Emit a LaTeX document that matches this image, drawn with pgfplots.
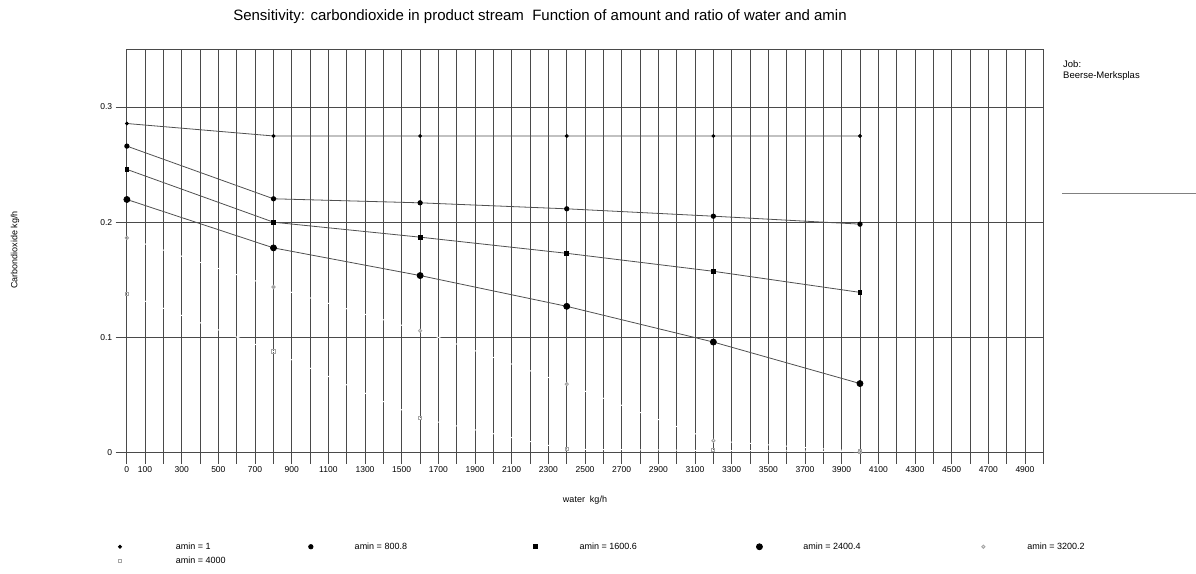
\documentclass[border=0pt]{standalone}
\usepackage{fontspec}
\setmainfont{Liberation Sans}
\usepackage{pgfplots}
\pgfplotsset{compat=1.18}
\definecolor{gridc}{HTML}{4A4A4A}
\definecolor{linec}{HTML}{505050}
\begin{document}
\begin{tikzpicture}[x=1pt,y=1pt]
\useasboundingbox (0,0) rectangle (1196,573);
\begin{axis}[
  at={(126.7pt,120.3pt)}, anchor=south west,
  scale only axis, width=916.6pt, height=403.4pt,
  xmin=0, xmax=5000, ymin=0, ymax=0.35,
  xtick={0,100,300,...,4900}, minor xtick={200,400,...,5000},
  ytick={0,0.1,0.2,0.3},
  scaled y ticks=false, scaled x ticks=false,
  /pgf/number format/1000 sep={},
  /pgf/number format/assume math mode=true,
  xticklabel style={font=\fontsize{8.5}{9}\selectfont, yshift=1pt},
  yticklabel style={font=\fontsize{8.5}{9}\selectfont},
  tick align=outside, xtick pos=left, ytick pos=left,
  major tick length=11pt, minor tick length=11pt,
  grid=both,
  major grid style={draw=gridc, line width=0.8pt},
  minor grid style={draw=gridc, line width=0.8pt},
  axis line style={draw=gridc, line width=0.8pt},
  tick style={draw=gridc, line width=0.8pt},
  clip=false,
  legend columns=5,
  legend cell align=left,
  legend image code/.code={%
    \path (-4pt,0pt) (42pt,0pt);
    \path[#1] plot coordinates {(0pt,0pt)};},
  legend style={draw=none, fill=none, inner sep=0pt,
    font=\fontsize{9}{10}\selectfont,
    at={(-0.0125,-0.219)}, anchor=north west,
    row sep=3pt,
    nodes={inner sep=1.5pt}},
]
\addplot[linec, line width=0.8pt, mark=*, mark size=1.5pt, mark options={fill=black, draw=black}]
  coordinates {(1,0.2856)(800.8,0.2748)(1600.6,0.2748)(2400.4,0.2748)(3200.2,0.2748)(4000,0.2748)};
\addlegendentry{\makebox[141pt][l]{\hspace{12pt}amin = 1}}
\addplot[linec, line width=0.8pt, mark=*, mark size=2.2pt, mark options={fill=black, draw=black}]
  coordinates {(1,0.266)(800.8,0.2203)(1600.6,0.2168)(2400.4,0.2116)(3200.2,0.2052)(4000,0.1983)};
\addlegendentry{\makebox[175pt][l]{amin = 800.8}}
\addplot[linec, line width=0.8pt, mark=square*, mark size=1.9pt, mark options={fill=black, draw=black}]
  coordinates {(1,0.2458)(800.8,0.200)(1600.6,0.187)(2400.4,0.173)(3200.2,0.1574)(4000,0.1391)};
\addlegendentry{\makebox[174pt][l]{amin = 1600.6}}
\addplot[linec, line width=0.8pt, mark=*, mark size=3pt, mark options={fill=black, draw=black}]
  coordinates {(1,0.2197)(800.8,0.1777)(1600.6,0.1537)(2400.4,0.127)(3200.2,0.096)(4000,0.060)};
\addlegendentry{\makebox[174pt][l]{amin = 2400.4}}
\addplot[white, line width=1pt, mark=o, mark size=1.6pt, mark options={draw=gray!70, fill=white}]
  coordinates {(1,0.1864)(800.8,0.1438)(1600.6,0.1058)(2400.4,0.0595)(3200.2,0.0104)(4000,0.001)};
\addlegendentry{amin = 3200.2}
\addplot[white, line width=1pt, mark=square, mark size=1.6pt, mark options={draw=gray!70, fill=white}]
  coordinates {(1,0.1377)(800.8,0.0878)(1600.6,0.0299)(2400.4,0.003)(3200.2,0.002)(4000,0.001)};
\addlegendentry{\hspace{12pt}amin = 4000}
\end{axis}
\node[font=\fontsize{15}{17}\selectfont] at (540,556) {Sensitivity: carbondioxide in product stream\ \ Function of amount and ratio of water and amin};
\node[font=\fontsize{9}{10}\selectfont] at (585,73) {water\ \ kg/h};
\node[font=\fontsize{9}{10}\selectfont, rotate=90] at (15,323) {Carbondioxide kg/h};
\node[font=\fontsize{9.5}{11}\selectfont, anchor=north west, align=left, inner sep=0pt] at (1063,513) {Job:\\Beerse-Merksplas};
\draw[draw=gray, line width=0.8pt] (1062,380) -- (1196,380);
\end{tikzpicture}
\end{document}
